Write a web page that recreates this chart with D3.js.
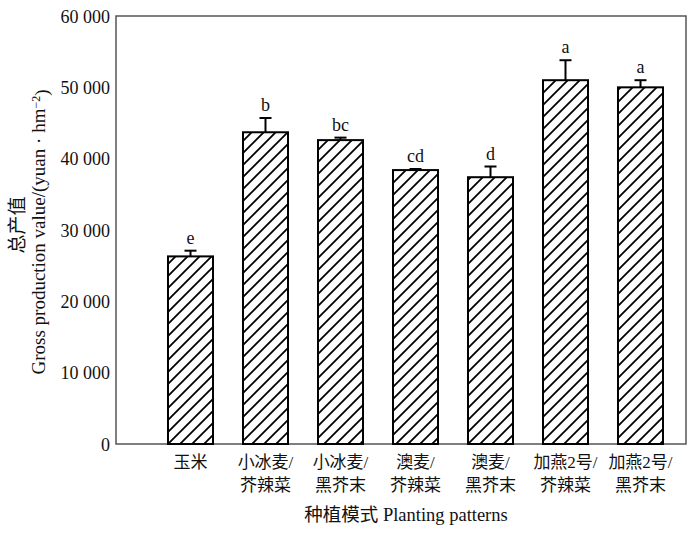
<!DOCTYPE html>
<html>
<head>
<meta charset="utf-8">
<script src="https://cdn.jsdelivr.net/npm/d3@7"></script>
<style>
  html, body { margin: 0; padding: 0; background: #fff; }
  svg { display: block; }
  text { font-family: "Liberation Serif", "Noto Sans CJK SC", serif; fill: #111; }
</style>
</head>
<body>
<div id="chart"></div>
<script>
// ---- data ----
const categoriesLine1 = ["玉米", "小冰麦/", "小冰麦/", "澳麦/", "澳麦/", "加燕2号/", "加燕2号/"];
const categoriesLine2 = ["", "芥辣菜", "黑芥末", "芥辣菜", "黑芥末", "芥辣菜", "黑芥末"];
const values = [26300, 43700, 42600, 38400, 37400, 51000, 50000];
const errors = [800, 2000, 350, 150, 1500, 2800, 1000];
const letters = ["e", "b", "bc", "cd", "d", "a", "a"];
const yTicks = [0, 10000, 20000, 30000, 40000, 50000, 60000];
const yTitleCN = "总产值";
const yTitleEN = "Gross production value/(yuan · hm";
const xTitle = "种植模式 Planting patterns";

// ---- layout ----
const W = 700, H = 534;
const frame = { left: 116, top: 16, right: 686, bottom: 444 };

const svg = d3.select("#chart").append("svg").attr("width", W).attr("height", H);

const defs = svg.append("defs");
const pat = defs.append("pattern")
  .attr("id", "hatch").attr("patternUnits", "userSpaceOnUse")
  .attr("width", 12).attr("height", 12);
pat.append("rect").attr("width", 12).attr("height", 12).attr("fill", "#fff");
pat.append("path")
  .attr("d", "M-3,3 L3,-3 M0,12 L12,0 M9,15 L15,9")
  .attr("stroke", "#000").attr("stroke-width", 1.8).attr("fill", "none");

const idx = d3.range(values.length);
const x = d3.scaleBand().domain(idx).range([153, 678]).paddingInner(0.4).paddingOuter(0.2);
const y = d3.scaleLinear().domain([0, 60000]).range([frame.bottom, frame.top]);

// frame
svg.append("rect")
  .attr("x", frame.left).attr("y", frame.top)
  .attr("width", frame.right - frame.left).attr("height", frame.bottom - frame.top)
  .attr("fill", "none").attr("stroke", "#555").attr("stroke-width", 1.5);

// y axis
const fmt = v => d3.format(",")(v).replace(/,/g, " ");
const yAxis = svg.append("g")
  .attr("transform", `translate(${frame.left},0)`)
  .call(d3.axisLeft(y).tickValues(yTicks).tickFormat(fmt).tickSize(0).tickPadding(6));
yAxis.select(".domain").remove();
yAxis.selectAll("text").style("font-size", "18px").attr("dy", "0.34em")
  .style("font-family", "'Liberation Serif', serif").attr("fill", "#111");

// bars
const bw = x.bandwidth();
svg.append("g").selectAll("rect").data(idx).join("rect")
  .attr("x", i => x(i)).attr("y", i => y(values[i]))
  .attr("width", bw).attr("height", i => y(0) - y(values[i]))
  .attr("fill", "url(#hatch)").attr("stroke", "#000").attr("stroke-width", 2);

// error bars
const eg = svg.append("g").attr("stroke", "#000").attr("stroke-width", 2);
eg.selectAll("line.v").data(idx).join("line").attr("class", "v")
  .attr("x1", i => x(i) + bw / 2).attr("x2", i => x(i) + bw / 2)
  .attr("y1", i => y(values[i])).attr("y2", i => y(values[i] + errors[i]));
eg.selectAll("line.c").data(idx).join("line").attr("class", "c")
  .attr("x1", i => x(i) + bw / 2 - 6).attr("x2", i => x(i) + bw / 2 + 6)
  .attr("y1", i => y(values[i] + errors[i])).attr("y2", i => y(values[i] + errors[i]));

// significance letters
svg.append("g").selectAll("text").data(idx).join("text")
  .attr("x", i => x(i) + bw / 2).attr("y", i => y(values[i] + errors[i]) - 7)
  .attr("text-anchor", "middle").style("font-size", "18px")
  .text(i => letters[i]);

// x labels
const xl = svg.append("g").style("font-size", "17px");
xl.selectAll("text.l1").data(idx).join("text").attr("class", "l1")
  .attr("x", i => x(i) + bw / 2).attr("y", 468).attr("text-anchor", "middle")
  .text(i => categoriesLine1[i]);
xl.selectAll("text.l2").data(idx).join("text").attr("class", "l2")
  .attr("x", i => x(i) + bw / 2).attr("y", 491).attr("text-anchor", "middle")
  .text(i => categoriesLine2[i]);

// x title
svg.append("text").attr("x", 406).attr("y", 521).attr("text-anchor", "middle")
  .style("font-size", "18.5px").text(xTitle);

// y titles
svg.append("text").attr("transform", "translate(24,225) rotate(-90)")
  .attr("text-anchor", "middle").style("font-size", "19px").text(yTitleCN);
const yt = svg.append("text").attr("transform", "translate(45,232) rotate(-90)")
  .attr("text-anchor", "middle").style("font-size", "19px");
yt.append("tspan").text(yTitleEN);
yt.append("tspan").attr("dy", "-0.45em").style("font-size", "12px").text("−2");
yt.append("tspan").attr("dy", "0.45em").text(")");
</script>
</body>
</html>
